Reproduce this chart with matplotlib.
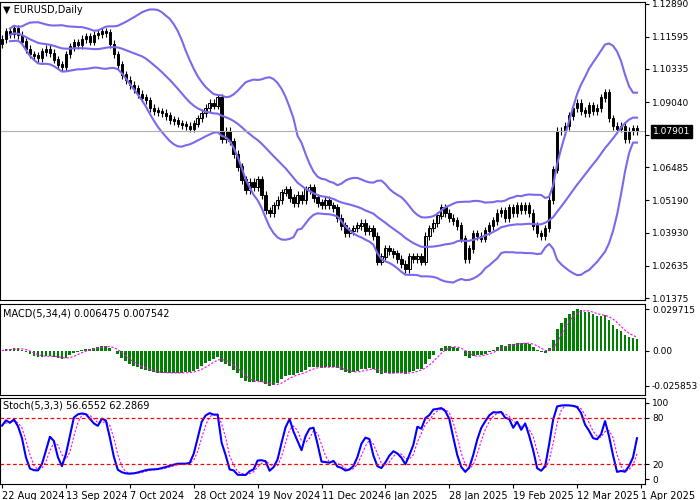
import numpy as np
import pandas as pd
import matplotlib.pyplot as plt

closes = [1.1150, 1.1180, 1.1170, 1.1190, 1.1165, 1.1140, 1.1110, 1.1090, 1.1085, 1.1075,
          1.1100, 1.1110, 1.1095, 1.1070, 1.1050, 1.1040, 1.1090, 1.1120, 1.1135, 1.1125,
          1.1150, 1.1160, 1.1140, 1.1165, 1.1170, 1.1180, 1.1175, 1.1130, 1.1090, 1.1050,
          1.1010, 1.0990, 1.0970, 1.0955, 1.0935, 1.0920, 1.0910, 1.0880, 1.0870, 1.0865,
          1.0860, 1.0850, 1.0835, 1.0830, 1.0820, 1.0815, 1.0810, 1.0800, 1.0820, 1.0840,
          1.0860, 1.0880, 1.0900, 1.0890, 1.0920, 1.0760, 1.0790, 1.0750, 1.0700, 1.0650,
          1.0600, 1.0560, 1.0590, 1.0570, 1.0600, 1.0540, 1.0480, 1.0470, 1.0500, 1.0520,
          1.0550, 1.0560, 1.0530, 1.0510, 1.0540, 1.0520, 1.0560, 1.0570, 1.0530, 1.0510,
          1.0500, 1.0520, 1.0500, 1.0490, 1.0450, 1.0420, 1.0390, 1.0400, 1.0410, 1.0420,
          1.0430, 1.0400, 1.0410, 1.0380, 1.0280, 1.0300, 1.0330, 1.0320, 1.0310, 1.0290,
          1.0270, 1.0250, 1.0300, 1.0290, 1.0300, 1.0280, 1.0380, 1.0410, 1.0430, 1.0460,
          1.0490, 1.0470, 1.0450, 1.0440, 1.0420, 1.0370, 1.0290, 1.0330, 1.0390, 1.0380,
          1.0370, 1.0400, 1.0420, 1.0440, 1.0470, 1.0480, 1.0450, 1.0490, 1.0470, 1.0500,
          1.0480, 1.0500, 1.0470, 1.0420, 1.0390, 1.0380, 1.0410, 1.0520, 1.0640, 1.0790,
          1.0790, 1.0810, 1.0850, 1.0880, 1.0900, 1.0870, 1.0860, 1.0890, 1.0870, 1.0880,
          1.0920, 1.0940, 1.0840, 1.0810, 1.0800, 1.0810, 1.0760, 1.0790, 1.0800, 1.0790]
first_open = 1.1130
wick = 0.0015
last_price = 1.07901

price_ticks = [1.12890, 1.11595, 1.10335, 1.09040, 1.07745, 1.06485, 1.05190, 1.03930, 1.02635, 1.01375]
date_labels = ['22 Aug 2024', '13 Sep 2024', '7 Oct 2024', '28 Oct 2024', '19 Nov 2024', '11 Dec 2024',
               '6 Jan 2025', '28 Jan 2025', '19 Feb 2025', '12 Mar 2025', '1 Apr 2025']
date_bar = [0, 16, 32, 48, 64, 80, 96, 112, 128, 144, 160]

c = pd.Series(closes)
o = c.shift(1).fillna(first_open)
h = np.maximum(o, c) + wick
l = np.minimum(o, c) - wick
n = len(c)
x = np.arange(n)

# indicators
mid = c.rolling(20, min_periods=3).mean()
sd = c.rolling(20, min_periods=3).std(ddof=0)
up, dn = mid + 2 * sd, mid - 2 * sd
macd = c.ewm(span=5, adjust=False).mean() - c.ewm(span=34, adjust=False).mean()
sig = macd.rolling(4, min_periods=1).mean()
hh = h.rolling(5, min_periods=1).max()
ll = l.rolling(5, min_periods=1).min()
k = 100 * (c - ll).rolling(3, min_periods=1).sum() / (hh - ll).rolling(3, min_periods=1).sum()
d = k.rolling(3, min_periods=1).mean()

fig = plt.figure(figsize=(7, 5), dpi=100)
W = 645 / 700
ax1 = fig.add_axes([0.0, 1 - 300 / 500, W, 298 / 500])
ax2 = fig.add_axes([0.0, 1 - 395 / 500, W, 91 / 500])
ax3 = fig.add_axes([0.0, 1 - 484 / 500, W, 86 / 500])
xlim = (-0.5, 161)

# candles
for i in range(n):
    ax1.vlines(x[i], l[i], h[i], color='black', lw=0.8)
    bull = c[i] >= o[i]
    ax1.bar(x[i], abs(c[i] - o[i]) + 0.0002, bottom=min(o[i], c[i]), width=0.6,
            color='white' if bull else 'black', edgecolor='black', lw=0.7)
for s in (up, mid, dn):
    ax1.plot(x, s, color='#7b68ee', lw=1.5)
ax1.axhline(last_price, color='#b0b0b0', lw=0.8)
ax1.set_ylim(1.0130, 1.1295)
ax1.text(0.005, 0.99, '▼ EURUSD,Daily', transform=ax1.transAxes, va='top', fontsize=7)
ax1.set_yticks(price_ticks)
ax1.set_yticklabels([f'{t:.5f}' for t in price_ticks])
ax1.text(1.012, (last_price - 1.0130) / (1.1295 - 1.0130), f'{last_price:.5f}', transform=ax1.transAxes,
         va='center', fontsize=6.5, color='white', zorder=10,
         bbox=dict(fc='black', ec='black', pad=1.5))

ax2.bar(x, macd, width=0.7, color='green')
ax2.plot(x, sig, color='magenta', ls=(0, (2, 1.5)), lw=0.8)
mx, mn = macd.max(), macd.min()
ax2.set_yticks([mx, 0.0, mn])
ax2.set_yticklabels(['0.029715', '0.00', '-0.025853'])
ax2.set_ylim(mn - 0.12 * (mx - mn), mx + 0.07 * (mx - mn))
ax2.text(0.005, 0.95, 'MACD(5,34,4) 0.006475 0.007542', transform=ax2.transAxes, va='top', fontsize=7)

ax3.plot(x, d, color='magenta', ls=(0, (2, 1.5)), lw=0.8)
ax3.plot(x, k, color='blue', lw=1.5)
for lv in (20, 80):
    ax3.axhline(lv, color='red', ls=(0, (3, 2)), lw=0.9)
ax3.set_ylim(-6, 106)
ax3.set_yticks([100, 80, 20, 0])
ax3.text(0.005, 0.97, 'Stoch(5,3,3) 56.6552 62.2869', transform=ax3.transAxes, va='top', fontsize=7)
ax3.set_xticks(date_bar)
ax3.set_xticklabels(date_labels, fontsize=7, ha='left')

for ax in (ax1, ax2, ax3):
    ax.set_xlim(xlim)
    ax.yaxis.tick_right()
    ax.tick_params(axis='y', labelsize=6.5, length=3, pad=2)
    ax.tick_params(axis='x', length=3, pad=2)
    if ax is not ax3:
        ax.set_xticks([])
    for sp in ax.spines.values():
        sp.set_linewidth(0.8)

fig.savefig('out.png', dpi=100)
